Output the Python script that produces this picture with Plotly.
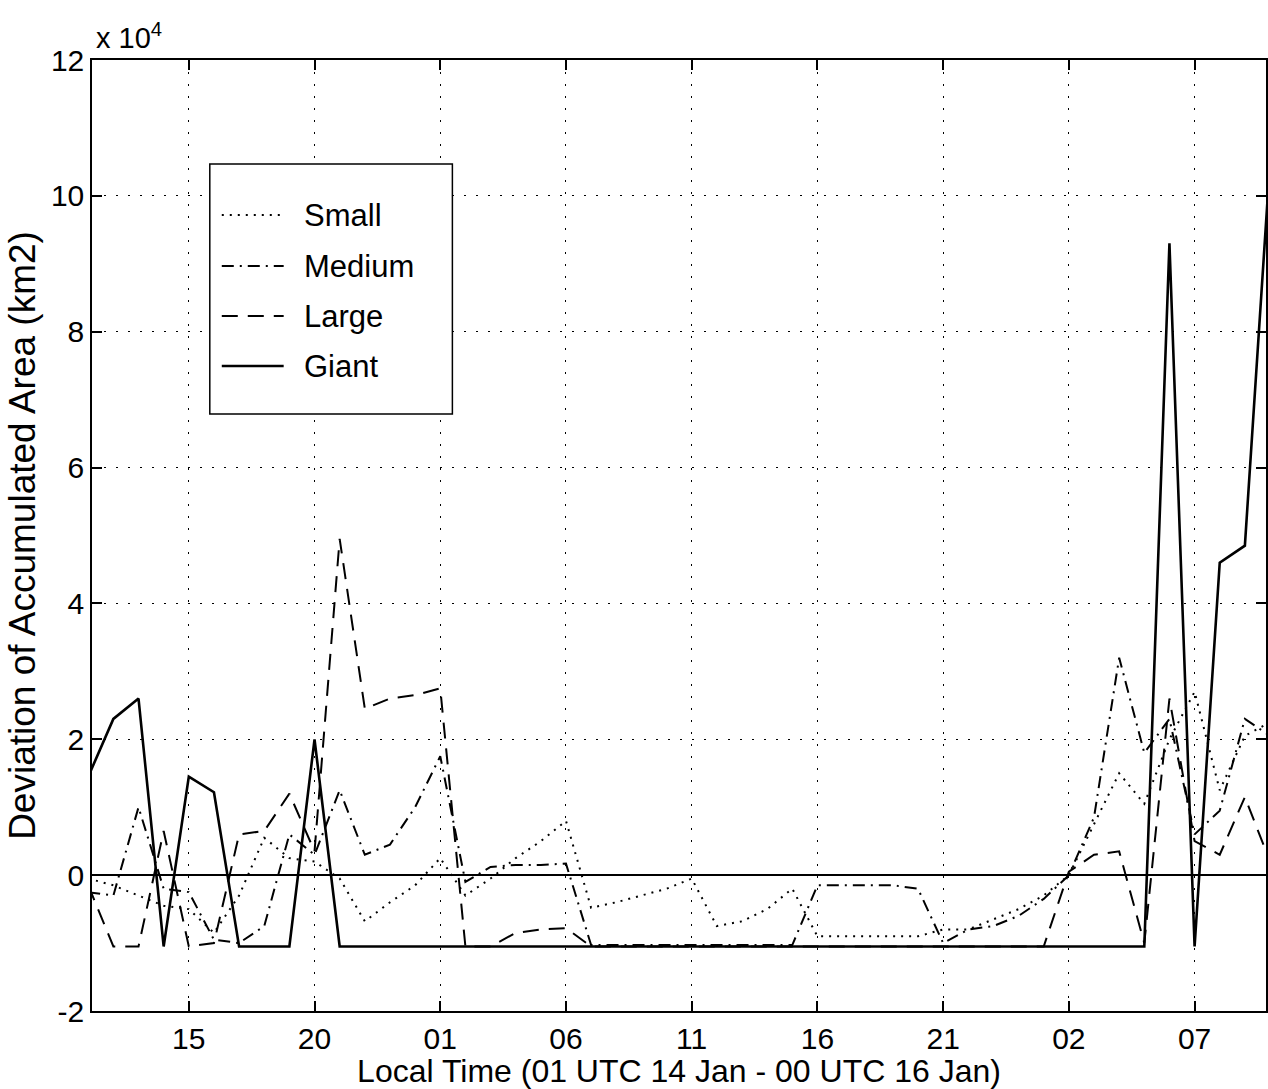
import plotly.graph_objects as go

# hours since 01 UTC 14 Jan (local 11:00)
hours = list(range(48))
tick_pos = [4, 9, 14, 19, 24, 29, 34, 39, 44]
tick_labels = ["15", "20", "01", "06", "11", "16", "21", "02", "07"]
y_tick_vals = [-2, 0, 2, 4, 6, 8, 10, 12]
y_tick_text = ["-2", "0", "2", "4", "6", "8", "10", "12"]

# values in units of 1e4 km2
small = [-0.05, -0.15, -0.3, -0.45, -0.5, -0.85, -0.3, 0.55, 0.25, 0.2,
         -0.05, -0.68, -0.4, -0.15, 0.25, -0.3, -0.05, 0.25, 0.5, 0.8,
         -0.48, -0.4, -0.3, -0.2, -0.05, -0.75, -0.68, -0.5, -0.2, -0.9,
         -0.9, -0.9, -0.9, -0.9, -0.8, -0.8, -0.65, -0.5, -0.3, 0.0,
         0.75, 1.5, 1.05, 2.0, 2.7, 1.25, 2.05, 2.25]
medium = [-0.25, -0.3, 1.0, -0.2, -0.25, -0.95, -1.0, -0.75, 0.6, 0.3,
          1.25, 0.3, 0.45, 1.0, 1.75, -0.1, 0.12, 0.15, 0.15, 0.17,
          -1.03, -1.03, -1.03, -1.03, -1.03, -1.03, -1.03, -1.03, -1.03, -0.15,
          -0.15, -0.15, -0.15, -0.2, -1.0, -0.8, -0.75, -0.6, -0.35, 0.0,
          0.85, 3.2, 1.8, 2.3, 0.6, 0.95, 2.3, 2.05]
large = [-0.15, -1.05, -1.05, 0.65, -1.05, -1.0, 0.6, 0.65, 1.2, 0.35,
         4.95, 2.45, 2.6, 2.65, 2.75, -1.05, -1.05, -0.85, -0.8, -0.78,
         -1.05, -1.05, -1.05, -1.05, -1.05, -1.05, -1.05, -1.05, -1.05, -1.05,
         -1.05, -1.05, -1.05, -1.05, -1.05, -1.05, -1.05, -1.05, -1.05, 0.05,
         0.3, 0.35, -1.0, 2.6, 0.5, 0.3, 1.15, 0.2]
giant = [1.45, 2.3, 2.6, -1.05, 1.45, 1.22, -1.05, -1.05, -1.05, 2.0,
         -1.05, -1.05, -1.05, -1.05, -1.05, -1.05, -1.05, -1.05, -1.05, -1.05,
         -1.05, -1.05, -1.05, -1.05, -1.05, -1.05, -1.05, -1.05, -1.05, -1.05,
         -1.05, -1.05, -1.05, -1.05, -1.05, -1.05, -1.05, -1.05, -1.05, -1.05,
         -1.05, -1.05, -1.05, 9.3, -1.05, 4.6, 4.85, 10.5]

series_names = ["Small", "Medium", "Large", "Giant"]
series_vals = [small, medium, large, giant]
dashes = ["2px,6px", "12px,6px,2px,6px", "16px,10px", "solid"]
widths = [2, 2, 2, 2.6]

FONT = "Liberation Sans, Arial, Helvetica, sans-serif"
W, H = 1268, 1089
ML, MR, MT, MB = 92, 0, 60, 78
PW, PH = W - ML - MR, H - MT - MB


def px(xp):
    return (xp - ML) / PW


def py(yp):
    return (H - MB - yp) / PH


fig = go.Figure()
for name, vals, d, w in zip(series_names, series_vals, dashes, widths):
    fig.add_trace(go.Scatter(x=hours, y=vals, mode="lines", name=name,
                             line=dict(color="black", width=w, dash=d),
                             showlegend=False))

# manual legend box, like the original
shapes = [dict(type="rect", xref="paper", yref="paper",
               x0=px(210), x1=px(453), y0=py(414), y1=py(164),
               line=dict(color="black", width=1.5), fillcolor="white", layer="above")]
annotations = []
leg_y = [215, 266, 316, 366]
for name, d, w, ly in zip(series_names, dashes, widths, leg_y):
    shapes.append(dict(type="line", xref="paper", yref="paper",
                       x0=px(222), x1=px(284), y0=py(ly), y1=py(ly),
                       line=dict(color="black", width=w, dash=d), layer="above"))
    annotations.append(dict(xref="paper", yref="paper", x=px(302), y=py(ly),
                            text=name, showarrow=False, xanchor="left", yanchor="middle",
                            font=dict(family=FONT, size=31, color="black")))

annotations.append(dict(xref="paper", yref="paper", x=px(94), y=py(56),
                        text="x 10<sup>4</sup>", showarrow=False,
                        xanchor="left", yanchor="bottom",
                        font=dict(family=FONT, size=29, color="black")))

fig.update_layout(
    width=W, height=H,
    margin=dict(l=ML, r=MR, t=MT, b=MB, pad=0),
    paper_bgcolor="white", plot_bgcolor="white",
    font=dict(family=FONT, size=30, color="black"),
    shapes=shapes, annotations=annotations,
    showlegend=False,
)
fig.update_xaxes(
    range=[0.15, 46.84], tickmode="array", tickvals=tick_pos, ticktext=tick_labels,
    ticks="inside", ticklen=10, tickwidth=1.5, tickcolor="black",
    showline=True, linecolor="black", linewidth=1.5, mirror="allticks",
    showgrid=True, gridcolor="black", gridwidth=1, griddash="2px,10px",
    zeroline=False,
    tickfont=dict(family=FONT, size=30),
    title=dict(text="Local Time (01 UTC 14 Jan - 00 UTC 16 Jan)",
               font=dict(family=FONT, size=32), standoff=0),
)
fig.update_yaxes(
    range=[-2, 12], tickmode="array", tickvals=y_tick_vals, ticktext=y_tick_text,
    ticks="inside", ticklen=10, tickwidth=1.5, tickcolor="black",
    showline=True, linecolor="black", linewidth=1.5, mirror="allticks",
    showgrid=True, gridcolor="black", gridwidth=1, griddash="2px,10px",
    zeroline=True, zerolinecolor="black", zerolinewidth=1.8,
    tickfont=dict(family=FONT, size=30),
    title=dict(text="Deviation of Accumulated Area (km2)",
               font=dict(family=FONT, size=37), standoff=4),
)

fig.write_html("out.html")
